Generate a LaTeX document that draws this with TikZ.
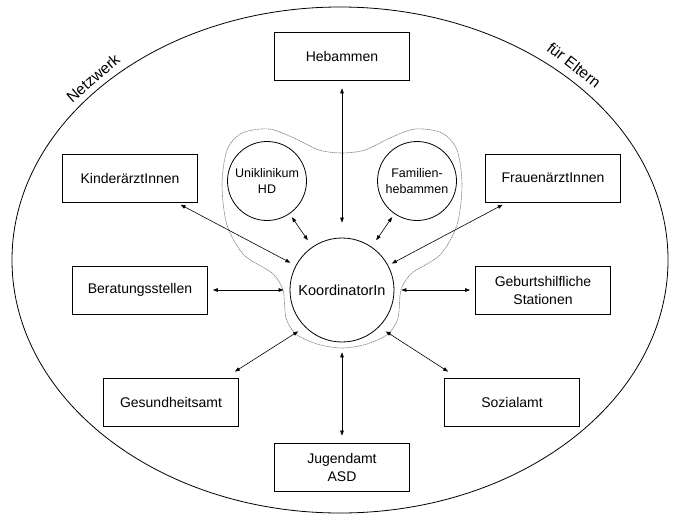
\documentclass[tikz,border=0pt]{standalone}
\usepackage{fontspec}
\setmainfont{Liberation Sans}
\usetikzlibrary{arrows.meta,shapes.geometric}
\begin{document}
\begin{tikzpicture}[x=1pt,y=-1pt,
  box/.style={draw,line width=0.8pt,minimum width=135pt,minimum height=48pt,inner sep=0pt,align=center,font=\fontsize{14}{18}\selectfont},
  circ/.style={draw,circle,line width=0.8pt,inner sep=0pt,align=center},
  arr/.style={{Triangle[length=5pt,width=3.6pt]}-{Triangle[length=5pt,width=3.6pt]},line width=0.6pt},
  blob/.style={draw=gray,line width=0.6pt,dash pattern=on 1.6pt off 0.6pt},
  lbl/.style={font=\fontsize{15.5}{17}\selectfont,inner sep=0pt}]
\useasboundingbox (0,0) rectangle (677,514);
\node[draw,ellipse,line width=0.8pt,minimum width=656pt,minimum height=506pt,inner sep=0pt] (net) at (340,260) {};
\node[lbl,rotate=41] (nw) at (93,78) {Netzwerk};
\node[lbl,rotate=-38] (fe) at (574,65) {für Eltern};

\draw[blob] plot[smooth cycle] coordinates {(342,153) (365,150) (390,138) (415,129) (442,133) (457,150) (462,185) (457,225) (440,255) (412,273) (401,290) (398,318) (388,334) (367,344) (342,348) (317,344) (296,334) (286,318) (283,290) (272,273) (244,255) (227,225) (222,185) (227,150) (242,133) (269,129) (294,138) (319,150)};

\node[box] (heb) at (342,56) {Hebammen};
\node[box] (kind) at (130,178) {KinderärztInnen};
\node[box] (frau) at (553,178) {FrauenärztInnen};
\node[box] (berat) at (140,290) {Beratungsstellen};
\node[box] (geb) at (543,290) {Geburtshilfliche\\Stationen};
\node[box] (ges) at (171,402) {Gesundheitsamt};
\node[box] (soz) at (512,402) {Sozialamt};
\node[box] (jug) at (342,467) {Jugendamt\\ASD};

\node[circ,minimum size=104pt,font=\fontsize{14.5}{17}\selectfont] (koord) at (342,290) {KoordinatorIn};
\node[circ,minimum size=79pt,font=\fontsize{12.5}{15.5}\selectfont] (uni) at (267,181) {Uniklinikum\\HD};
\node[circ,minimum size=79pt,font=\fontsize{12.5}{15.5}\selectfont] (fam) at (417,181) {Familien-\\hebammen};

\draw[arr,shorten <=8pt,shorten >=15pt] (heb) -- (koord);
\draw[arr,shorten <=4pt,shorten >=8pt] (uni) -- (koord);
\draw[arr,shorten <=4pt,shorten >=8pt] (fam) -- (koord);
\draw[arr,shorten <=5pt,shorten >=6pt] (kind) -- (koord);
\draw[arr,shorten <=5pt,shorten >=4pt] (frau) -- (koord);
\draw[arr,shorten <=5pt,shorten >=6pt] (berat) -- (koord);
\draw[arr,shorten <=5pt,shorten >=7pt] (geb) -- (koord);
\draw[arr,shorten >=8pt] ([xshift=-4pt,yshift=6pt]ges.north east) -- (koord.225);
\draw[arr,shorten >=8pt] ([xshift=4pt,yshift=6pt]soz.north west) -- (koord.-45);
\draw[arr,shorten <=7pt,shorten >=10pt] (jug) -- (koord);
\end{tikzpicture}
\end{document}
